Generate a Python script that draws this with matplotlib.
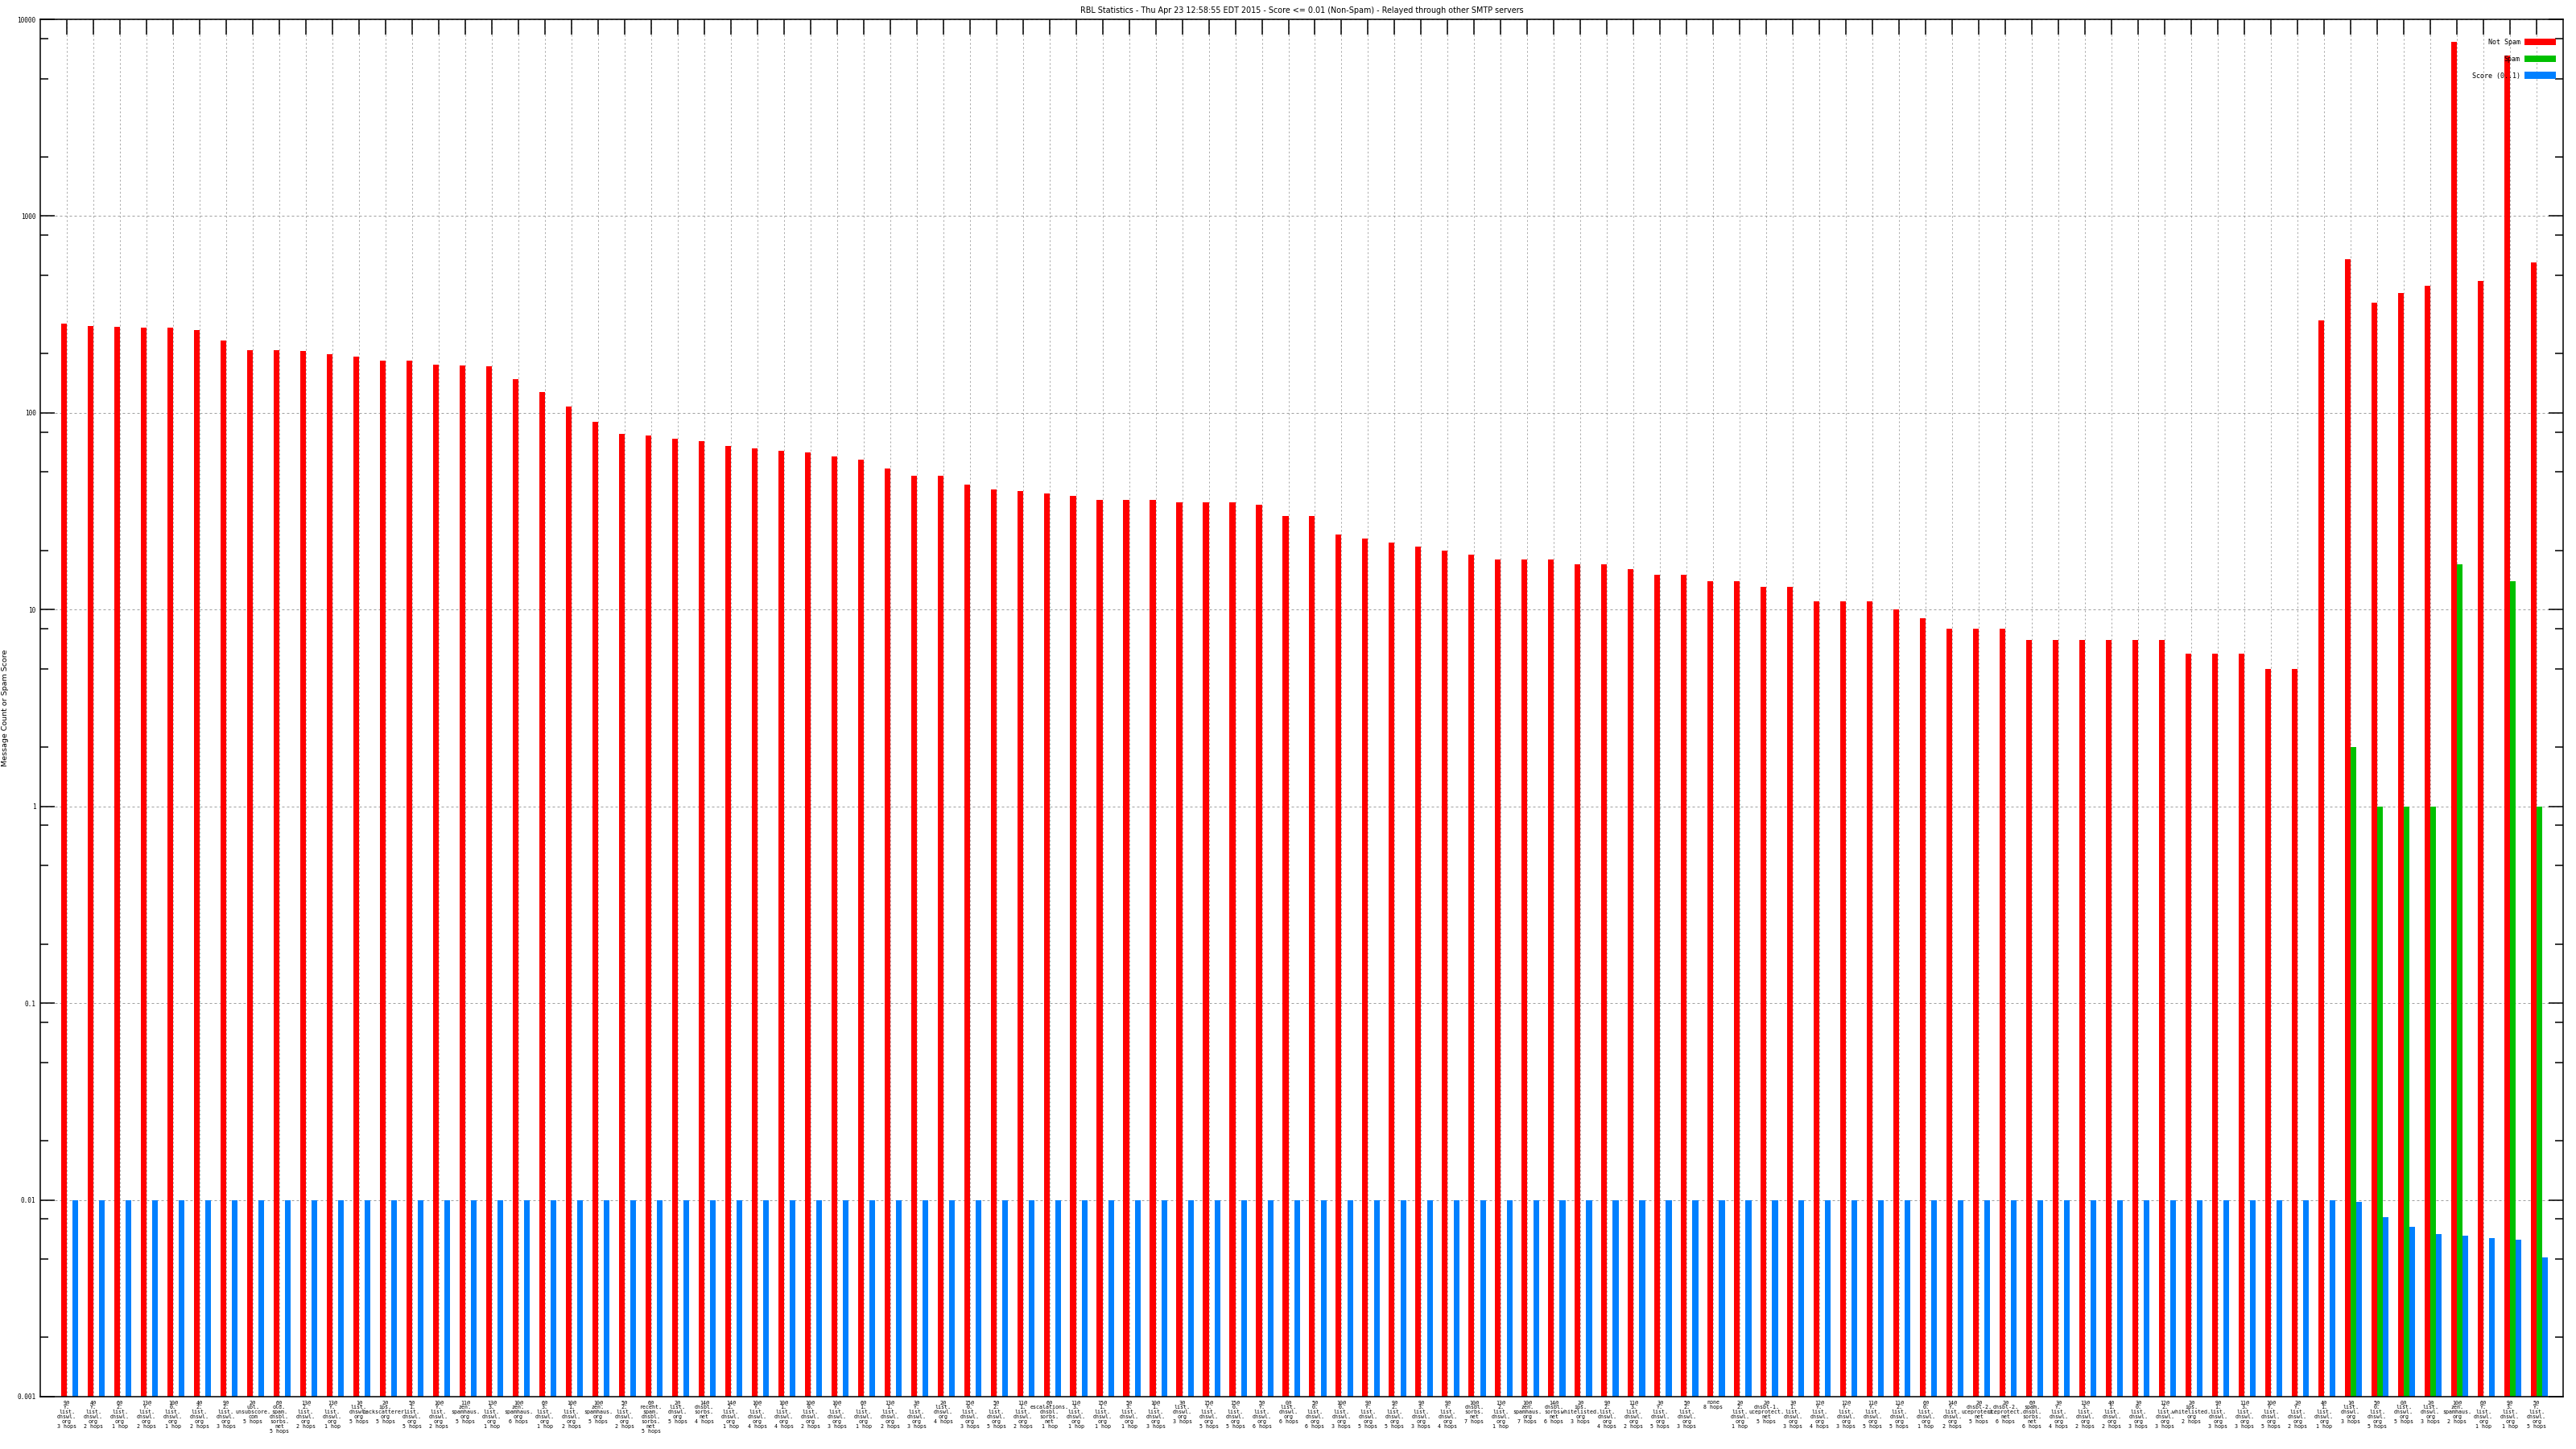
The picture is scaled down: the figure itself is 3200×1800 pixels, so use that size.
import numpy as np
import matplotlib
matplotlib.use("Agg")
import matplotlib.pyplot as plt
from matplotlib.ticker import LogLocator, NullFormatter

# data

rbl = [
    "9@Y.list.dnswl.org", "4@Y.list.dnswl.org", "6@2.list.dnswl.org", "13@Y.list.dnswl.org",
    "10@0.list.dnswl.org", "4@2.list.dnswl.org", "9@2.list.dnswl.org", "2@ubl.unsubscore.com",
    "6@old.spam.dnsbl.sorbs.net", "13@2.list.dnswl.org", "13@Y.list.dnswl.org", "1@list.dnswl.org",
    "2@ips.backscatterer.org", "5@1.list.dnswl.org", "10@Y.list.dnswl.org", "11@zen.spamhaus.org",
    "13@3.list.dnswl.org", "10@zen.spamhaus.org", "6@3.list.dnswl.org", "10@1.list.dnswl.org",
    "10@zen.spamhaus.org", "5@2.list.dnswl.org", "6@recent.spam.dnsbl.sorbs.net", "2@list.dnswl.org",
    "14@dnsbl.sorbs.net", "14@2.list.dnswl.org", "10@Y.list.dnswl.org", "10@1.list.dnswl.org",
    "10@0.list.dnswl.org", "10@Y.list.dnswl.org", "6@1.list.dnswl.org", "13@1.list.dnswl.org",
    "3@Y.list.dnswl.org", "2@list.dnswl.org", "15@0.list.dnswl.org", "5@2.list.dnswl.org",
    "11@1.list.dnswl.org", "6@escalations.dnsbl.sorbs.net", "11@3.list.dnswl.org", "15@1.list.dnswl.org",
    "5@3.list.dnswl.org", "10@1.list.dnswl.org", "3@list.dnswl.org", "15@Y.list.dnswl.org",
    "15@0.list.dnswl.org", "5@Y.list.dnswl.org", "0@list.dnswl.org", "5@0.list.dnswl.org",
    "10@0.list.dnswl.org", "9@Y.list.dnswl.org", "9@2.list.dnswl.org", "9@3.list.dnswl.org",
    "9@Y.list.dnswl.org", "10@dnsbl.sorbs.net", "13@2.list.dnswl.org", "10@zen.spamhaus.org",
    "14@dnsbl.sorbs.net", "2@ips.whitelisted.org", "9@2.list.dnswl.org", "11@3.list.dnswl.org",
    "3@Y.list.dnswl.org", "5@2.list.dnswl.org", "none", "2@2.list.dnswl.org",
    "2@dnsbl-1.uceprotect.net", "3@1.list.dnswl.org", "12@Y.list.dnswl.org", "12@Y.list.dnswl.org",
    "11@Y.list.dnswl.org", "11@2.list.dnswl.org", "6@0.list.dnswl.org", "14@Y.list.dnswl.org",
    "2@dnsbl-2.uceprotect.net", "2@dnsbl-2.uceprotect.net", "6@spam.dnsbl.sorbs.net", "3@Y.list.dnswl.org",
    "13@3.list.dnswl.org", "4@1.list.dnswl.org", "3@0.list.dnswl.org", "12@2.list.dnswl.org",
    "2@ips.whitelisted.org", "9@1.list.dnswl.org", "11@3.list.dnswl.org", "10@Y.list.dnswl.org",
    "2@Y.list.dnswl.org", "4@1.list.dnswl.org", "1@list.dnswl.org", "5@0.list.dnswl.org",
    "0@list.dnswl.org", "2@list.dnswl.org", "10@zen.spamhaus.org", "6@Y.list.dnswl.org",
    "9@3.list.dnswl.org", "5@Y.list.dnswl.org",
]

hops = [
    "3 hops", "2 hops", "1 hop", "2 hops", "1 hop", "2 hops", "3 hops", "5 hops",
    "5 hops", "2 hops", "1 hop", "5 hops", "5 hops", "5 hops", "2 hops", "5 hops",
    "1 hop", "6 hops", "1 hop", "2 hops", "5 hops", "2 hops", "5 hops", "5 hops",
    "4 hops", "1 hop", "4 hops", "4 hops", "2 hops", "3 hops", "1 hop", "2 hops",
    "3 hops", "4 hops", "3 hops", "5 hops", "2 hops", "1 hop", "1 hop", "1 hop",
    "1 hop", "3 hops", "3 hops", "5 hops", "5 hops", "6 hops", "6 hops", "6 hops",
    "3 hops", "5 hops", "5 hops", "3 hops", "4 hops", "7 hops", "1 hop", "7 hops",
    "6 hops", "3 hops", "4 hops", "2 hops", "5 hops", "3 hops", "8 hops", "1 hop",
    "5 hops", "3 hops", "4 hops", "3 hops", "5 hops", "5 hops", "1 hop", "2 hops",
    "5 hops", "6 hops", "6 hops", "4 hops", "2 hops", "2 hops", "3 hops", "3 hops",
    "2 hops", "3 hops", "3 hops", "5 hops", "2 hops", "1 hop", "3 hops", "5 hops",
    "5 hops", "3 hops", "2 hops", "1 hop", "1 hop", "5 hops",
]

not_spam = [
    283, 276, 273, 271, 271, 263, 233, 208, 208, 206, 198, 194, 184, 184, 175, 174,
    172, 148, 127, 108, 90, 78, 77, 74, 72, 68, 66, 64, 63, 60, 58, 52,
    48, 48, 43, 41, 40, 39, 38, 36, 36, 36, 35, 35, 35, 34, 30, 30,
    24, 23, 22, 21, 20, 19, 18, 18, 18, 17, 17, 16, 15, 15, 14, 14,
    13, 13, 11, 11, 11, 10, 9, 8, 8, 8, 7, 7, 7, 7, 7, 7,
    6, 6, 6, 5, 5, 295, 605, 363, 408, 442, 7700, 466, 6550, 582,
]

spam = [
    0, 0, 0, 0, 0, 0, 0, 0, 0, 0, 0, 0, 0, 0, 0, 0,
    0, 0, 0, 0, 0, 0, 0, 0, 0, 0, 0, 0, 0, 0, 0, 0,
    0, 0, 0, 0, 0, 0, 0, 0, 0, 0, 0, 0, 0, 0, 0, 0,
    0, 0, 0, 0, 0, 0, 0, 0, 0, 0, 0, 0, 0, 0, 0, 0,
    0, 0, 0, 0, 0, 0, 0, 0, 0, 0, 0, 0, 0, 0, 0, 0,
    0, 0, 0, 0, 0, 0, 2, 1, 1, 1, 17, 0, 14, 1,
]

score = [
    0.01, 0.01, 0.01, 0.01, 0.01, 0.01, 0.01, 0.01, 0.01, 0.01, 0.01, 0.01, 0.01, 0.01, 0.01, 0.01,
    0.01, 0.01, 0.01, 0.01, 0.01, 0.01, 0.01, 0.01, 0.01, 0.01, 0.01, 0.01, 0.01, 0.01, 0.01, 0.01,
    0.01, 0.01, 0.01, 0.01, 0.01, 0.01, 0.01, 0.01, 0.01, 0.01, 0.01, 0.01, 0.01, 0.01, 0.01, 0.01,
    0.01, 0.01, 0.01, 0.01, 0.01, 0.01, 0.01, 0.01, 0.01, 0.01, 0.01, 0.01, 0.01, 0.01, 0.01, 0.01,
    0.01, 0.01, 0.01, 0.01, 0.01, 0.01, 0.01, 0.01, 0.01, 0.01, 0.01, 0.01, 0.01, 0.01, 0.01, 0.01,
    0.01, 0.01, 0.01, 0.01, 0.01, 0.01, 0.0098, 0.0082, 0.0073, 0.0067, 0.0066, 0.0064, 0.0063, 0.0051,
]

ytick_vals = [0.001, 0.01, 0.1, 1, 10, 100, 1000, 10000]
ytick_labels = ["0.001", "0.01", "0.1", "1", "10", "100", "1000", "10000"]

TITLE = ("RBL Statistics - Thu Apr 23 12:58:55 EDT 2015 - Score <= 0.01 (Non-Spam)"
         " - Relayed through other SMTP servers")
YLABEL = "Message Count or Spam Score"

# style
RED = "#ff0000"
GREEN = "#00c000"
BLUE = "#0080ff"
GRID = "#a0a0a0"
W = 0.215          # bar width (group spacing = 1)
MONO = "DejaVu Sans Mono"
FW, FH = 3200, 1800

# plot

labels = [r.replace("@", "@\n").replace(".", ".\n") + "\n" + h for r, h in zip(rbl, hops)]
x = np.arange(len(rbl))
ns = np.array(not_spam, float)
sp = np.array(spam, float)
sc = np.array(score, float)

fig = plt.figure(figsize=(FW / 100, FH / 100), dpi=100)
ax = fig.add_axes([50 / FW, 65 / FH, 3134 / FW, 1711 / FH])
ax.set_yscale("log")

ax.bar(x - W, ns, W, align="edge", color=RED, label="Not Spam", zorder=2)
m = sp > 0
ax.bar(x[m], sp[m], W, align="edge", color=GREEN, label="Spam", zorder=2)
ax.bar(x + W, sc, W, align="edge", color=BLUE, label="Score (0..1)", zorder=2)

ax.set_xlim(-1, len(rbl))
ax.set_ylim(0.001, 10000)

ax.set_xticks(x)
ax.set_xticklabels(labels, fontsize=4.8, family=MONO, linespacing=1.0)
ax.tick_params(axis="x", which="major", bottom=False, top=True, direction="in",
               length=13.5, width=1.1, pad=3)

ax.set_yticks(ytick_vals)
ax.set_yticklabels(ytick_labels, fontsize=5.6, family=MONO)
ax.yaxis.set_minor_locator(LogLocator(base=10, subs=(2.0, 5.0, 8.0)))
ax.yaxis.set_minor_formatter(NullFormatter())
ax.tick_params(axis="y", which="both", left=True, right=True, direction="in")
ax.tick_params(axis="y", which="major", length=13, width=1.1, pad=4)
ax.tick_params(axis="y", which="minor", length=7, width=1.1)

ax.set_axisbelow(True)
ax.grid(True, axis="x", which="major", color=GRID, linewidth=0.72, linestyle=(0, (2, 3)))
ax.grid(True, axis="y", which="major", color=GRID, linewidth=0.72, linestyle=(0, (3, 3)))

for s in ax.spines.values():
    s.set_linewidth(1.1)

ax.text(0.5, 1 + 11.5 / 1711, TITLE, transform=ax.transAxes, ha="center", va="center",
        fontsize=6.9, family="DejaVu Sans")
fig.text(6.5 / FW, (65 + 1711 / 2) / FH, YLABEL, rotation=90, ha="center", va="center",
         fontsize=6.8, family="DejaVu Sans")

ax.legend(loc="upper right", bbox_to_anchor=(0.9971, 0.986), frameon=False, markerfirst=False,
          prop={"family": MONO, "size": 6}, handlelength=4.7, handleheight=1.2,
          handletextpad=0.6, labelspacing=1.4, borderpad=0, borderaxespad=0)

fig.savefig("out.png", dpi=100)
